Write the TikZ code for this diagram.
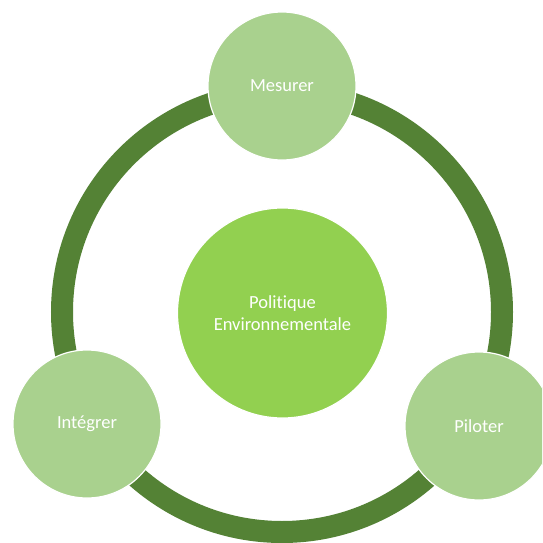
\documentclass[tikz,border=0pt]{standalone}
\usepackage{fontspec}
\setmainfont[Ligatures=NoCommon]{Carlito}
\definecolor{ringgreen}{HTML}{548235}
\definecolor{lightgreen}{HTML}{A9D18E}
\definecolor{midgreen}{HTML}{92D050}
\tikzset{
  ringline/.style={draw=ringgreen, line width=22pt},
  satellite/.style={circle, fill=lightgreen, draw=white, line width=1.2pt, minimum size=148pt, inner sep=0pt, text=white, font=\fontsize{18.5}{22}\selectfont, align=center},
  hub/.style={circle, fill=midgreen, draw=white, line width=1.2pt, minimum size=210pt, inner sep=0pt, text=white, font=\fontsize{18.5}{22}\selectfont, align=center}
}
\begin{document}
\begin{tikzpicture}[x=1pt, y=-1pt]
\useasboundingbox (0,0) rectangle (542,543);
\clip (0,0) rectangle (542,543);
\fill[white] (0,0) rectangle (542,543);
\coordinate (c) at (282,312);
\draw[ringline] (c) circle (220);
\node[hub] (hub) at (282.5,313) {Politique\\Environnementale};
\node[satellite] (mes) at (282,86) {Mesurer};
\node[satellite] (int) at (87,424) {Intégrer};
\node[satellite] (pil) at (479,426) {Piloter};
\end{tikzpicture}
\end{document}
